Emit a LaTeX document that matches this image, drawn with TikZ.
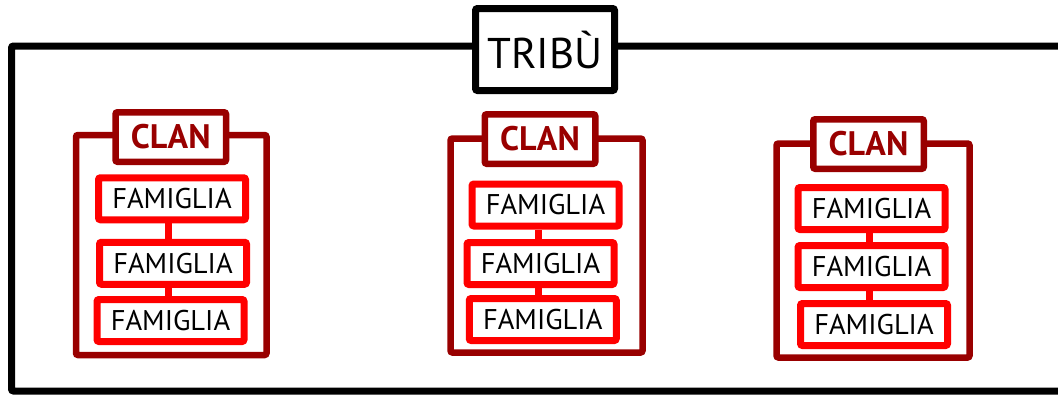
\documentclass[tikz,border=0pt]{standalone}
\usepackage{fontspec}
\setmainfont{PT Sans}
\definecolor{clanred}{HTML}{990000}
\definecolor{famred}{HTML}{FF0000}
\tikzset{
  tribebox/.style={draw=black,line width=7pt,fill=white,rounded corners=2pt,inner sep=0pt,minimum width=139pt,minimum height=82pt,font=\fontsize{43}{50}\selectfont},
  clanframe/.style={draw=clanred,line width=6.5pt,rounded corners=2pt},
  clanlabel/.style={draw=clanred,line width=6.5pt,fill=white,rounded corners=2pt,inner sep=0pt,minimum width=110.5pt,minimum height=49.5pt,text=clanred,font=\fontsize{34}{40}\selectfont\bfseries},
  fambox/.style={draw=famred,line width=7pt,fill=white,rounded corners=2pt,inner sep=0pt,minimum width=147pt,minimum height=42pt,font=\fontsize{28.5}{34}\selectfont},
  famlink/.style={draw=famred,line width=7pt}
}
\begin{document}
\begin{tikzpicture}[x=1pt,y=-1pt]
\useasboundingbox (0,0) rectangle (1058,394);
\begin{scope}
\clip (0,0) rectangle (1058,394);
\draw[line width=7pt,rounded corners=2pt] (11.5,46) rectangle (1075,391);
\end{scope}
\node[tribebox] (tribe) at (545,49.5) {TRIBÙ};

% Clan 1
\draw[clanframe] (76,135) rectangle (266.5,355);
\node[clanlabel] (c1) at (170.75,137) {CLAN};
\node[fambox] (f11) at (172,198.75) {FAMIGLIA};
\node[fambox] (f12) at (173,263.25) {FAMIGLIA};
\node[fambox] (f13) at (170.5,320.5) {FAMIGLIA};
\coordinate (k1) at (168,0);
\draw[famlink] (f11.south -| k1) -- (f12.north -| k1);
\draw[famlink] (f12.south -| k1) -- (f13.north -| k1);

% Clan 2
\draw[clanframe] (450.5,138.5) rectangle (642.5,352.5);
\node[clanlabel] (c2) at (540,139) {CLAN};
\node[fambox] (f21) at (545.5,205) {FAMIGLIA};
\node[fambox] (f22) at (540.5,263.5) {FAMIGLIA};
\node[fambox] (f23) at (542.75,319.5) {FAMIGLIA};
\coordinate (k2) at (538,0);
\draw[famlink] (f21.south -| k2) -- (f22.north -| k2);
\draw[famlink] (f22.south -| k2) -- (f23.north -| k2);

% Clan 3
\draw[clanframe] (776.5,143.5) rectangle (969.5,357.5);
\node[clanlabel] (c3) at (868.5,144) {CLAN};
\node[fambox] (f31) at (871.5,208.5) {FAMIGLIA};
\node[fambox] (f32) at (871.5,266.5) {FAMIGLIA};
\node[fambox] (f33) at (874,324.5) {FAMIGLIA};
\coordinate (k3) at (869.5,0);
\draw[famlink] (f31.south -| k3) -- (f32.north -| k3);
\draw[famlink] (f32.south -| k3) -- (f33.north -| k3);
\end{tikzpicture}
\end{document}
